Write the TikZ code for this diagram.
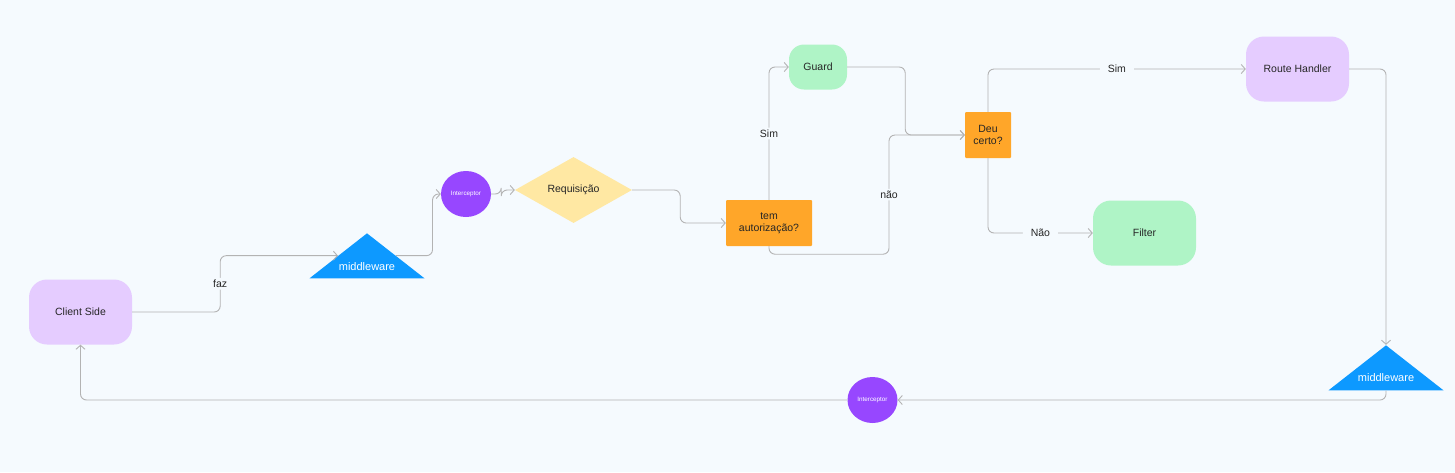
\documentclass[tikz,border=0pt]{standalone}
\usepackage{fontspec}
\setmainfont{Liberation Sans}
\usetikzlibrary{shapes.geometric, arrows.meta}
\definecolor{bgcol}{HTML}{F5FAFE}
\definecolor{lilac}{HTML}{E5CCFF}
\definecolor{mint}{HTML}{AFF4C6}
\definecolor{sand}{HTML}{FFE8A3}
\definecolor{amber}{HTML}{FFA629}
\definecolor{skyblue}{HTML}{0D99FF}
\definecolor{violet}{HTML}{9747FF}
\definecolor{wire}{HTML}{B3B3B3}
\definecolor{ink}{HTML}{262626}
\tikzstyle{every node}=[font=\fontsize{10.5}{12.5}\selectfont, text=ink]
\tikzstyle{softbox} = [rectangle, rounded corners=18pt, minimum width=103pt, minimum height=65pt, text centered, fill=lilac]
\tikzstyle{pill} = [rectangle, rounded corners=15pt, minimum width=58pt, minimum height=45pt, text centered, fill=mint]
\tikzstyle{check} = [rectangle, rounded corners=1pt, align=center, text centered, fill=amber, inner sep=0pt]
\tikzstyle{ask} = [diamond, aspect=1.77, minimum width=117pt, minimum height=66pt, inner sep=0pt, fill=sand]
\tikzstyle{hook} = [ellipse, minimum width=50pt, minimum height=46pt, inner sep=0pt, fill=violet, text=white, font=\fontsize{6.3}{7}\selectfont]
\tikzstyle{mware} = [isosceles triangle, shape border rotate=90, isosceles triangle stretches, minimum width=115pt, minimum height=45pt, inner sep=0pt, fill=skyblue]
\tikzstyle{mwtext} = [text=white, font=\fontsize{11}{13}\selectfont]
\tikzstyle{arrow} = [draw=wire, line width=0.9pt, rounded corners=6pt, -{Straight Barb[length=4pt, width=9pt]}]
\tikzstyle{tag} = [fill=bgcol, inner sep=2pt]

\begin{document}
\begin{tikzpicture}[x=1pt, y=-1pt]
        \useasboundingbox [fill=bgcol] (0,0) rectangle (1455,472);
        \node (client) [softbox] at (80.5,312) {Client Side};
        \node (mw1) [mware] at (367,258.5) {};
          \node (mw1txt) [mwtext] at (367,267) {middleware};
        \node (int1) [hook] at (466,194) {Interceptor};
        \node (req) [ask] at (573.5,190) {Requisição};
        \node (tem) [check, minimum width=86pt, minimum height=46pt] at (769,223) {tem\\autorização?};
        \node (guard) [pill] at (818,67) {Guard};
        \node (deu) [check, minimum width=46pt, minimum height=46pt] at (988,135) {Deu\\certo?};
        \node (route) [softbox] at (1297.5,69) {Route Handler};
        \node (filter) [softbox, fill=mint] at (1144.5,233) {Filter};
        \node (mw2) [mware] at (1386,370.5) {};
          \node (mw2txt) [mwtext] at (1386,378) {middleware};
        \node (int2) [hook] at (872.5,400) {Interceptor};

        \draw [arrow] (client.east) -- ++(88,0) |- node [tag, pos=0.25] {faz} (mw1.left side);
        \draw [arrow] (mw1.right side) -- ++(36.5,0) |- (int1.west);
        \draw [arrow] (int1.east) -- ++(10,0) |- (req.west);
        \draw [arrow] (req.east) -- ++(48,0) |- (tem.west);
        \draw [arrow] (tem.north) |- node [tag, pos=0.25] {Sim} (guard.west);
        \draw [arrow] (guard.east) -- ++(58,0) |- (deu.west);
        \draw [arrow] (tem.south) |- ++(120,8) |- node [tag, pos=0.25] {não} (deu.west);
        \draw [arrow] (deu.north) |- node [tag, pos=0.75, inner xsep=8pt] {Sim} (route.west);
        \draw [arrow] (deu.south) |- node [tag, pos=0.75, inner xsep=8pt] {Não} (filter.west);
        \draw [arrow] (route.east) -| (mw2.apex);
        \draw [arrow] (mw2.lower side) |- (int2.east);
        \draw [arrow] (int2.west) -| (client.south);
      \end{tikzpicture}
\end{document}
